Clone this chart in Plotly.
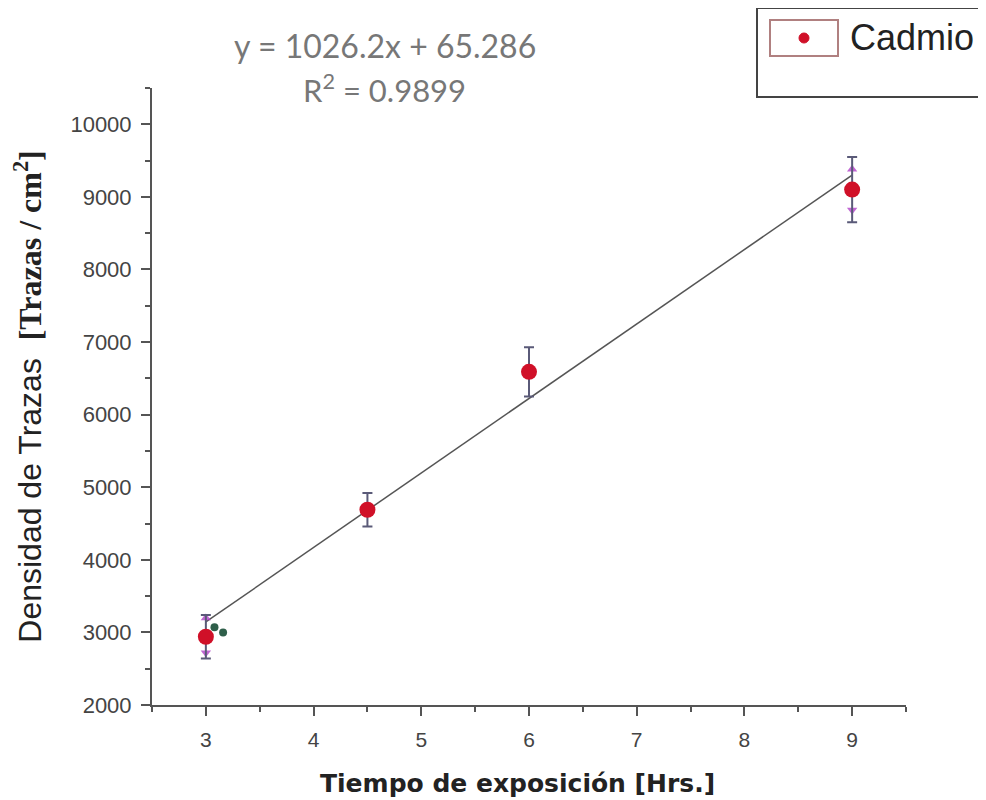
import plotly.graph_objects as go

# Data
tiempo = [3, 4.5, 6, 9]
densidad = [2940, 4690, 6590, 9100]
error = [300, 230, 340, 450]

slope = 1026.2
intercept = 65.286
fit_x = [3, 9]
fit_y = [slope * x + intercept for x in fit_x]

# stray markers around error bars (purple triangles, green dots)
tri_up_x = [3, 9]
tri_up_y = [3200, 9380]
tri_dn_x = [3, 9]
tri_dn_y = [2720, 8820]
green_x = [3.08, 3.16]
green_y = [3070, 3000]

x_title = "Tiempo de exposición [Hrs.]"
legend_label = "Cadmio"

# page-pixel geometry of the plot area (page has an 8px body offset)
PL, PR, PT, PB = 152, 906, 88, 705


def px(xp):
    return (xp - PL) / (PR - PL)


def py(yp):
    return (PB - yp) / (PB - PT)


fig = go.Figure()

fig.add_trace(go.Scatter(
    x=fit_x, y=fit_y, mode="lines",
    line=dict(color="#555555", width=1.5), showlegend=False, hoverinfo="skip"))

fig.add_trace(go.Scatter(
    x=tri_up_x, y=tri_up_y, mode="markers",
    marker=dict(symbol="triangle-up", size=9, color="#b040c8", opacity=0.8),
    showlegend=False))
fig.add_trace(go.Scatter(
    x=tri_dn_x, y=tri_dn_y, mode="markers",
    marker=dict(symbol="triangle-down", size=9, color="#b040c8", opacity=0.8),
    showlegend=False))
fig.add_trace(go.Scatter(
    x=green_x, y=green_y, mode="markers",
    marker=dict(symbol="circle", size=8, color="#2f5f4a"),
    showlegend=False))

fig.add_trace(go.Scatter(
    x=tiempo, y=densidad, mode="markers", name=legend_label,
    marker=dict(symbol="circle", size=16, color="#d01028"),
    error_y=dict(type="data", array=error, visible=True,
                 color="#5a5a78", thickness=2, width=5),
    showlegend=False))

axis_common = dict(
    showline=True, linecolor="#555555", linewidth=2,
    showgrid=False, zeroline=False,
    ticks="outside", ticklen=9, tickwidth=1.5, tickcolor="#555555",
    mirror=False, tickformat="d",
)

fig.update_xaxes(
    **axis_common,
    range=[2.5, 9.5], dtick=1, tick0=3,
    minor=dict(ticks="outside", ticklen=5, dtick=0.5, tickcolor="#555555", tickwidth=1.5),
    tickfont=dict(family="Liberation Sans", size=21, color="#444444"),
    ticklabelstandoff=6,
)
fig.update_yaxes(
    **axis_common,
    range=[2000, 10500], dtick=1000, tick0=2000,
    minor=dict(ticks="outside", ticklen=5, dtick=500, tickcolor="#555555", tickwidth=1.5),
    tickfont=dict(family="Liberation Sans", size=22, color="#444444"),
    ticklabelstandoff=5,
    title=dict(text="Densidad de Trazas  <b><span style=\"font-family:'Liberation Serif'\">[Trazas / cm<sup>2</sup>]</span></b>",
               font=dict(family="Liberation Sans", size=32, color="#222222"),
               standoff=25),
)

# X axis title (placed as annotation to match its offset position)
fig.add_annotation(xref="paper", yref="paper", x=px(517), y=py(783),
                   xanchor="center", yanchor="middle",
                   text="<b>" + x_title + "</b>", showarrow=False,
                   font=dict(family="DejaVu Sans", size=25, color="#222222"))

# Equation annotation
fig.add_annotation(xref="paper", yref="paper", x=px(385), y=py(45),
                   xanchor="center", yanchor="middle",
                   text="y = 1026.2x + 65.286", showarrow=False,
                   font=dict(family="Lato", size=32, color="#777777"))
fig.add_annotation(xref="paper", yref="paper", x=px(384), y=py(88),
                   xanchor="center", yanchor="middle",
                   text="R<sup>2</sup> = 0.9899", showarrow=False,
                   font=dict(family="Lato", size=31, color="#777777"))

# Legend box
fig.add_shape(type="rect", xref="paper", yref="paper",
              x0=px(757), x1=px(1010), y0=py(97), y1=py(8),
              line=dict(color="#444444", width=2), fillcolor="white", layer="above")
fig.add_shape(type="rect", xref="paper", yref="paper",
              x0=px(770), x1=px(838), y0=py(56), y1=py(20),
              line=dict(color="#b08080", width=2), fillcolor="white", layer="above")
fig.add_shape(type="circle", xref="paper", yref="paper",
              xsizemode="pixel", ysizemode="pixel",
              xanchor=px(804), yanchor=py(38),
              x0=-5, x1=5, y0=-5, y1=5,
              line=dict(color="#d01028", width=1), fillcolor="#d01028", layer="above")
fig.add_annotation(xref="paper", yref="paper", x=px(848), y=py(38),
                   xanchor="left", yanchor="middle", text=legend_label, showarrow=False,
                   font=dict(family="Liberation Sans", size=36, color="#222222"))

fig.update_layout(
    width=986, height=800,
    margin=dict(l=PL - 8, r=986 - (PR - 8), t=PT - 8, b=800 - (PB - 8), autoexpand=False),
    plot_bgcolor="white", paper_bgcolor="white",
    showlegend=False,
)

fig.write_html("out.html")
